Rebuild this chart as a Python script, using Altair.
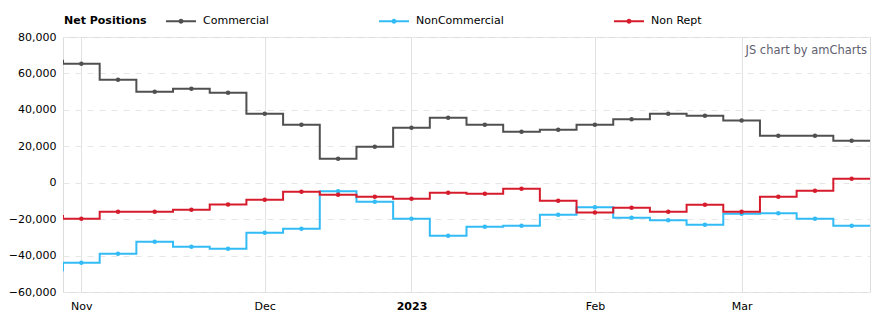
import altair as alt
import pandas as pd

# weekly report dates (first and last are partly outside the visible window)
dates = ["2022-10-25", "2022-11-01", "2022-11-08", "2022-11-15", "2022-11-22", "2022-11-29",
         "2022-12-06", "2022-12-13", "2022-12-20", "2022-12-27", "2023-01-03", "2023-01-10",
         "2023-01-17", "2023-01-24", "2023-01-31", "2023-02-07", "2023-02-14", "2023-02-21",
         "2023-02-28", "2023-03-07", "2023-03-14", "2023-03-21", "2023-03-28", "2023-04-04"]
commercial = [67000, 65300, 56500, 50000, 51600, 49400, 37900, 31800, 13200, 19800, 30200, 35700,
              31800, 28000, 29100, 31800, 34800, 37900, 36800, 34200, 25800, 25800, 23100, 23100]
noncommercial = [-48000, -43900, -39000, -32400, -35100, -36200, -27500, -25300, -4700, -10400,
                 -19800, -29100, -24200, -23600, -17600, -13500, -19200, -20600, -23100, -17000,
                 -16800, -19800, -23600, -23600]
nonrept = [-18300, -19800, -15900, -15900, -14800, -11900, -9300, -4900, -6600, -7700, -8800,
           -5500, -6000, -3300, -9900, -16300, -13700, -15900, -12100, -15900, -7700, -4400,
           2200, 2200]

series_names = ["Commercial", "NonCommercial", "Non Rept"]
series_colors = ["#505050", "#33bbf6", "#d61c2c"]
legend_title = "Net Positions"
credit_text = "JS chart by amCharts"

tick_labels = ["Nov", "Dec", "2023", "Feb", "Mar"]
tick_dates = ["2022-11-01", "2022-12-06", "2023-01-03", "2023-02-07", "2023-03-07"]
y_ticks = [-60000, -40000, -20000, 0, 20000, 40000, 60000, 80000]

rows = []
for name, vals in zip(series_names, [commercial, noncommercial, nonrept]):
    for i, (d, v) in enumerate(zip(dates, vals)):
        rows.append({"date": d, "idx": i - 1, "series": name, "value": v})
df = pd.DataFrame(rows)

tick_idx = [dates.index(d) - 1 for d in tick_dates]
label_expr = ""
for ti, tl in zip(tick_idx, tick_labels):
    label_expr += f"datum.value == {ti} ? '{tl}' : "
label_expr += "''"
bold_idx = tick_idx[tick_labels.index("2023")]

x_enc = alt.X(
    "idx:Q",
    scale=alt.Scale(domain=[-0.5, 21.5], nice=False, zero=False),
    axis=alt.Axis(
        values=tick_idx, labelExpr=label_expr, grid=True, gridColor="#e2e2e2", gridWidth=1,
        ticks=False, domain=False, labelPadding=8, labelFontSize=11, labelColor="#000000",
        labelFontWeight={"condition": {"test": f"datum.value == {bold_idx}", "value": "bold"},
                         "value": "normal"},
        title=None,
    ),
)
y_enc = alt.Y(
    "value:Q",
    scale=alt.Scale(domain=[-60000, 80000], nice=False, zero=False),
    axis=alt.Axis(
        values=y_ticks, format=",.0f", grid=True, gridDash=[6, 6], gridColor="#e6e6e6",
        ticks=False, domain=False, labelPadding=7, labelFontSize=11, labelColor="#000000",
        title=None,
    ),
)

legend_path = "M-1,0H1M-0.1,0A0.1,0.1,0,1,1,0.1,0A0.1,0.1,0,1,1,-0.1,0"
color_scale = alt.Scale(domain=series_names, range=series_colors)

base = alt.Chart(df)
lines = base.mark_line(interpolate="step", strokeWidth=2, clip=True).encode(
    x=x_enc, y=y_enc,
    color=alt.Color(
        "series:N", scale=color_scale, sort=series_names,
        legend=alt.Legend(
            title=None, orient="none", legendX=102, legendY=-32,
            direction="horizontal", labelFontSize=11,
            labelColor="#000000", symbolType=legend_path, symbolSize=900,
            symbolStrokeWidth=2, columnPadding=106, labelOffset=6,
        ),
    ),
)
points = base.mark_circle(size=20, opacity=1, clip=True).encode(
    x=x_enc, y=y_enc,
    color=alt.Color("series:N", scale=color_scale, legend=None),
)

title_mark = alt.Chart(pd.DataFrame({"t": [legend_title]})).mark_text(
    align="left", baseline="middle", fontSize=11, fontWeight="bold", color="#000000",
    font="DejaVu Sans"
).encode(text="t:N", x=alt.value(1), y=alt.value(-16))

credit = alt.Chart(pd.DataFrame({"t": [credit_text]})).mark_text(
    align="right", baseline="middle", fontSize=11.5, color="#5f5f6f", font="DejaVu Sans"
).encode(text="t:N", x=alt.value(804), y=alt.value(14))

chart = alt.layer(lines, points, title_mark, credit).properties(
    width=807, height=255,
    autosize=alt.AutoSizeParams(type="none"),
    padding={"left": 63, "top": 37, "right": 15, "bottom": 33},
).configure_view(stroke=None).configure(font="DejaVu Sans")

chart.save("out.html", embed_options={"renderer": "svg", "actions": False})
